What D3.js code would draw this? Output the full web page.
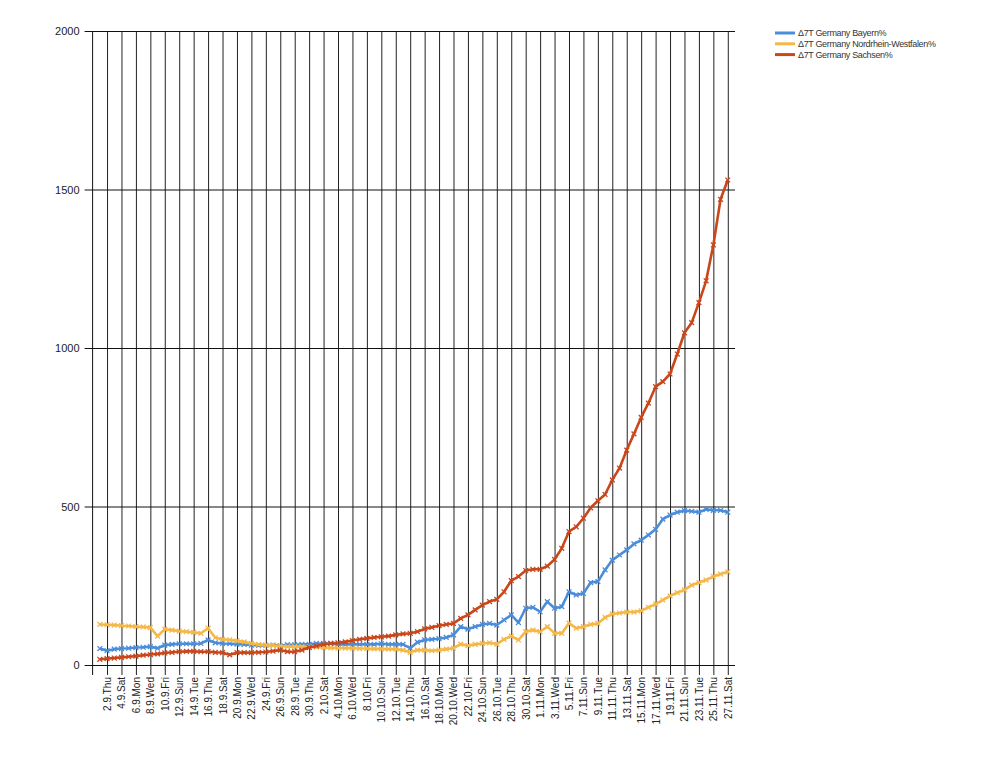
<!DOCTYPE html>
<html><head><meta charset="utf-8">
<script src="https://cdn.jsdelivr.net/npm/d3@7"></script>
<style>body{margin:0;background:#fff}svg{display:block}</style>
</head><body>
<svg id="c" width="1000" height="761"></svg>
<script>
// daily categories, 1.9 .. 27.11
const dates = ["1.9","2.9","3.9","4.9","5.9","6.9","7.9","8.9","9.9","10.9","11.9","12.9","13.9","14.9","15.9","16.9","17.9","18.9","19.9","20.9","21.9","22.9","23.9","24.9","25.9","26.9","27.9","28.9","29.9","30.9",
"1.10","2.10","3.10","4.10","5.10","6.10","7.10","8.10","9.10","10.10","11.10","12.10","13.10","14.10","15.10","16.10","17.10","18.10","19.10","20.10","21.10","22.10","23.10","24.10","25.10","26.10","27.10","28.10","29.10","30.10","31.10",
"1.11","2.11","3.11","4.11","5.11","6.11","7.11","8.11","9.11","10.11","11.11","12.11","13.11","14.11","15.11","16.11","17.11","18.11","19.11","20.11","21.11","22.11","23.11","24.11","25.11","26.11","27.11"];

const tickLabels = ["2.9.Thu","4.9.Sat","6.9.Mon","8.9.Wed","10.9.Fri","12.9.Sun","14.9.Tue","16.9.Thu","18.9.Sat","20.9.Mon","22.9.Wed","24.9.Fri","26.9.Sun","28.9.Tue","30.9.Thu",
"2.10.Sat","4.10.Mon","6.10.Wed","8.10.Fri","10.10.Sun","12.10.Tue","14.10.Thu","16.10.Sat","18.10.Mon","20.10.Wed","22.10.Fri","24.10.Sun","26.10.Tue","28.10.Thu","30.10.Sat",
"1.11.Mon","3.11.Wed","5.11.Fri","7.11.Sun","9.11.Tue","11.11.Thu","13.11.Sat","15.11.Mon","17.11.Wed","19.11.Fri","21.11.Sun","23.11.Tue","25.11.Thu","27.11.Sat"];

const yTicks = [0, 500, 1000, 1500, 2000];

const seriesNames = ["\u03947T Germany Bayern%", "\u03947T Germany Nordrhein-Westfalen%", "\u03947T Germany Sachsen%"];

const bayern = [52,45,50,52,53,55,56,58,53,63,65,67,67,67,68,79,70,68,67,66,65,63,62,
62,63,61,64,64,65,65,68,68,68,65,65,65,65,65,65,67,65,65,65,
53,72,79,81,83,87,95,121,113,121,128,131,126,142,158,134,179,182,
168,200,179,184,231,221,226,260,263,300,331,347,363,382,394,410,428,460,473,482,487,485,482,491,488,488,482];

const nrw = [128,127,126,124,123,121,120,118,91,113,110,107,105,103,100,116,86,81,79,76,73,68,65,
63,61,60,58,58,58,57,56,55,54,53,53,53,52,52,51,51,50,50,47,
40,47,47,45,47,50,53,66,61,65,68,70,66,81,91,79,105,110,
105,121,100,100,132,116,121,128,131,150,161,164,167,167,171,182,192,205,218,228,237,252,260,268,279,287,294];

const sachsen = [18,20,22,24,26,28,31,33,35,38,40,42,43,43,42,42,40,39,32,39,39,39,40,
41,44,47,42,42,47,55,60,65,68,70,73,77,81,84,87,89,91,95,98,
100,105,114,119,124,128,131,147,158,174,189,200,207,231,266,279,298,302,
302,312,333,368,421,436,463,496,518,538,584,621,678,729,781,826,878,894,918,981,1048,1080,1143,1212,1325,1469,1530];

const colors = ["#4a8ddb", "#f5b848", "#c9471b"];
const series = [bayern, nrw, sachsen];

const svg = d3.select("#c");
const x = d3.scaleLinear().domain([-1, 88]).range([92.6, 735]);
const y = d3.scaleLinear().domain([0, 2000]).range([665, 31]);
const font = "'Liberation Sans', Arial, sans-serif";

// label index -> day index
const tickIdx = tickLabels.map(l => dates.indexOf(l.split(".").slice(0,2).join(".")));

// vertical gridlines (x axis ticks)
const xAxis = d3.axisBottom(x).tickValues(tickIdx).tickSize(-(665-31)).tickSizeOuter(0)
  .tickFormat((d,i) => tickLabels[i]);
const gx = svg.append("g").attr("transform","translate(0,665)").call(xAxis);
gx.select(".domain").remove();
gx.selectAll(".tick line").attr("stroke","#222").attr("y2",-(665-31)).attr("y1",10);
gx.selectAll(".tick text")
  .attr("transform","rotate(-90)")
  .attr("x",-12).attr("y",0).attr("dy","0.35em")
  .attr("text-anchor","end")
  .attr("font-family",font).attr("font-size","10px").attr("fill","#222");

// horizontal gridlines (y axis)
const yAxis = d3.axisLeft(y).tickValues(yTicks).tickSize(-(735-92.6)).tickSizeOuter(0).tickFormat(d3.format("d"));
const gy = svg.append("g").attr("transform","translate(92.6,0)").call(yAxis);
gy.select(".domain").remove();
gy.selectAll(".tick line").attr("stroke","#111").attr("x1",-8);
gy.selectAll(".tick text").attr("x",-13).attr("font-family",font).attr("font-size","11px").attr("fill","#222");

// y axis line
svg.append("line").attr("x1",x(-1)).attr("x2",x(-1)).attr("y1",y(2000)).attr("y2",675).attr("stroke","#111");

// series
const line = d3.line().x((d,i)=>x(i)).y(d=>y(d));
series.forEach((s,k)=>{
  svg.append("path").datum(s).attr("d",line).attr("fill","none")
    .attr("stroke",colors[k]).attr("stroke-width",2.6).attr("stroke-linejoin","round");
  const g = svg.append("g").attr("stroke",colors[k]).attr("stroke-width",1.3);
  s.forEach((v,i)=>{
    const cx=x(i), cy=y(v), r=2.4;
    g.append("line").attr("x1",cx-r).attr("x2",cx+r).attr("y1",cy-r).attr("y2",cy+r);
    g.append("line").attr("x1",cx-r).attr("x2",cx+r).attr("y1",cy+r).attr("y2",cy-r);
  });
});

// legend
const lg = svg.append("g").attr("transform","translate(775,33)");
seriesNames.forEach((n,k)=>{
  const r = lg.append("g").attr("transform",`translate(0,${k*10.8})`);
  r.append("line").attr("x1",0).attr("x2",20).attr("y1",0).attr("y2",0).attr("stroke",colors[k]).attr("stroke-width",3);
  r.append("text").attr("x",23).attr("y",0).attr("dy","0.35em").attr("font-family",font)
    .attr("font-size","9px").attr("letter-spacing","-0.35px").attr("fill","#333").text(n);
});
</script>
</body></html>
